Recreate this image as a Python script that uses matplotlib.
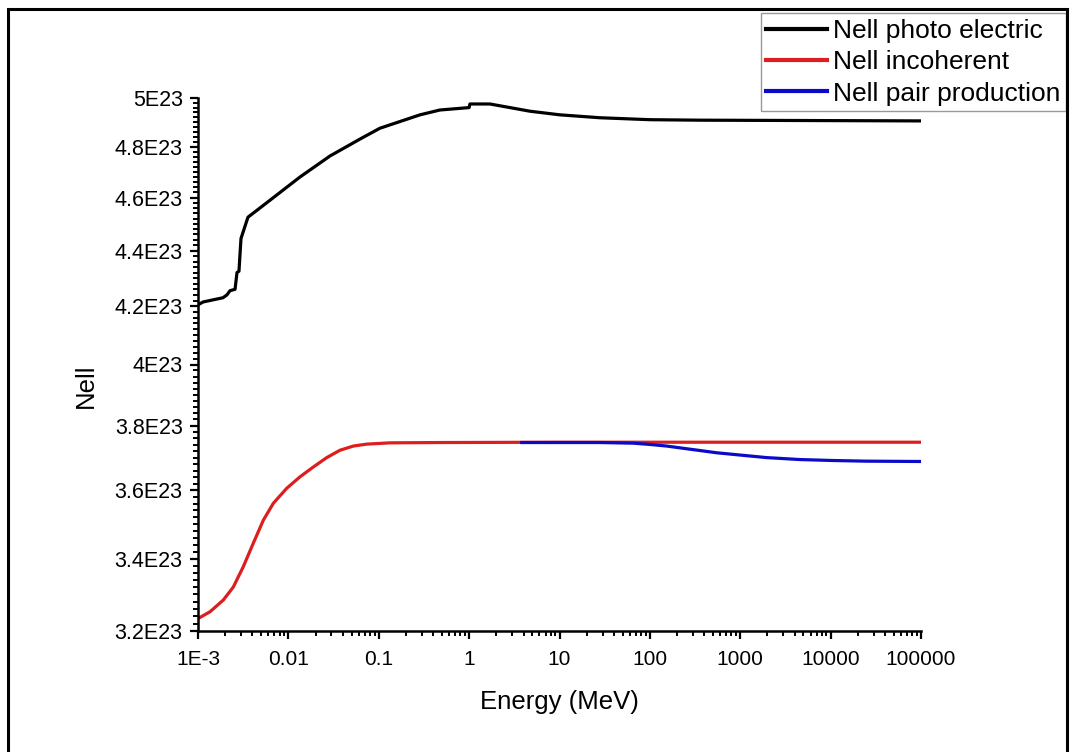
import numpy as np
import matplotlib
matplotlib.use("Agg")
import matplotlib.pyplot as plt
from matplotlib.ticker import FixedLocator, FuncFormatter, NullFormatter, LogLocator
from matplotlib.patches import Rectangle

plt.rcParams['font.family'] = ['Liberation Sans', 'DejaVu Sans']

# values (energy in MeV, Nell in units of 1E23)
photo_e = [1.0e-3, 1.14e-3, 1.89e-3, 2.09e-3, 2.26e-3, 2.57e-3, 2.70e-3, 2.84e-3,
           2.99e-3, 3.57e-3, 6.27e-3, 1.345e-2, 2.887e-2, 6.2e-2, 0.103, 0.286,
           0.475, 1.0, 1.02, 1.7, 2.83, 4.7, 10.1, 28.0, 100.0, 359.0, 1e5]
photo_n = [4.205, 4.215, 4.23, 4.24, 4.255, 4.26, 4.32, 4.325,
           4.445, 4.525, 4.59, 4.68, 4.763, 4.831, 4.875, 4.93,
           4.95, 4.96, 4.975, 4.975, 4.96, 4.945, 4.93, 4.918, 4.91, 4.908, 4.905]

incoh_e = [1.008e-3, 1.358e-3, 1.905e-3, 2.459e-3, 3.17e-3, 4.09e-3, 5.28e-3, 6.81e-3,
           9.57e-3, 1.345e-2, 1.888e-2, 2.655e-2, 3.73e-2, 5.23e-2, 7.36e-2, 0.133,
           0.475, 10.0, 1e3, 1e5]
incoh_n = [3.234, 3.252, 3.284, 3.320, 3.377, 3.444, 3.511, 3.561,
           3.606, 3.641, 3.671, 3.700, 3.723, 3.736, 3.742, 3.746,
           3.747, 3.748, 3.748, 3.748]

pair_e = [3.82, 28.1, 65.6, 100.0, 153.0, 234.0, 359.0, 549.0, 838.0, 1282.0,
          1963.0, 4581.0, 1.07e4, 2.5e4, 1e5]
pair_n = [3.747, 3.747, 3.745, 3.741, 3.736, 3.729, 3.722, 3.715, 3.710, 3.705,
          3.700, 3.694, 3.691, 3.689, 3.688]

xticks = [1e-3, 1e-2, 1e-1, 1, 10, 100, 1000, 1e4, 1e5]
xlabels = ["1E-3", "0.01", "0.1", "1", "10", "100", "1000", "10000", "100000"]
yticks = [3.2, 3.4, 3.6, 3.8, 4.0, 4.2, 4.4, 4.6, 4.8, 5.0]

fig = plt.figure(figsize=(10.71, 7.52), dpi=100)
ax = fig.add_axes([198/1071, 1-631/752, 723/1071, 533/752])

ax.plot(photo_e, np.array(photo_n)*1e23, color='black', lw=2.3, label="Nell photo electric")
ax.plot(incoh_e, np.array(incoh_n)*1e23, color='#dc1e1e', lw=2.3, label="Nell incoherent")
ax.plot(pair_e, np.array(pair_n)*1e23, color='#0a0ac8', lw=2.3, label="Nell pair production")

ax.set_xscale('log')
ax.set_yscale('log')
ax.set_xlim(1e-3, 1e5)
ax.set_ylim(3.2e23, 5e23)

ax.xaxis.set_major_locator(FixedLocator(xticks))
ax.set_xticklabels(xlabels)
ax.xaxis.set_minor_locator(LogLocator(base=10, subs=np.arange(2, 10)))
ax.xaxis.set_minor_formatter(NullFormatter())

ax.yaxis.set_major_locator(FixedLocator([v*1e23 for v in yticks]))
ax.yaxis.set_minor_locator(FixedLocator([v*1e23 for v in np.arange(3.2, 5.0, 0.02)]))
ax.yaxis.set_major_formatter(FuncFormatter(lambda v, p: "%gE23" % round(v/1e23, 2)))
ax.yaxis.set_minor_formatter(NullFormatter())

for s in ['top', 'right']:
    ax.spines[s].set_visible(False)
for s in ['left', 'bottom']:
    ax.spines[s].set_linewidth(1.8)
ax.tick_params(which='major', direction='out', length=6, width=1.6, labelsize=15, pad=8)
ax.tick_params(which='minor', direction='out', length=3.5, width=1.4)
ax.tick_params(axis='y', which='major', pad=5, labelsize=15.5)

ax.set_xlabel("Energy (MeV)", fontsize=18.5, labelpad=15)
ax.set_ylabel("Nell", fontsize=18.5)
ax.yaxis.set_label_coords(-0.138, 0.46)

leg = ax.legend(loc='upper right', bbox_to_anchor=(1066/1071, 1-13/752),
                bbox_transform=fig.transFigure, fontsize=19, frameon=True,
                fancybox=False, borderaxespad=0, borderpad=0.22, handlelength=2.3,
                handletextpad=0.22, labelspacing=0.28)
leg.get_frame().set_edgecolor('#808080')
leg.get_frame().set_linewidth(1.0)
for h in leg.get_lines():
    h.set_linewidth(3)

fig.patches.append(Rectangle((8/1071, -0.05), 1059/1071, 1.05-9/752,
                             transform=fig.transFigure, fill=False,
                             edgecolor='black', lw=2.2, zorder=0))

fig.savefig("out.png", dpi=100)
